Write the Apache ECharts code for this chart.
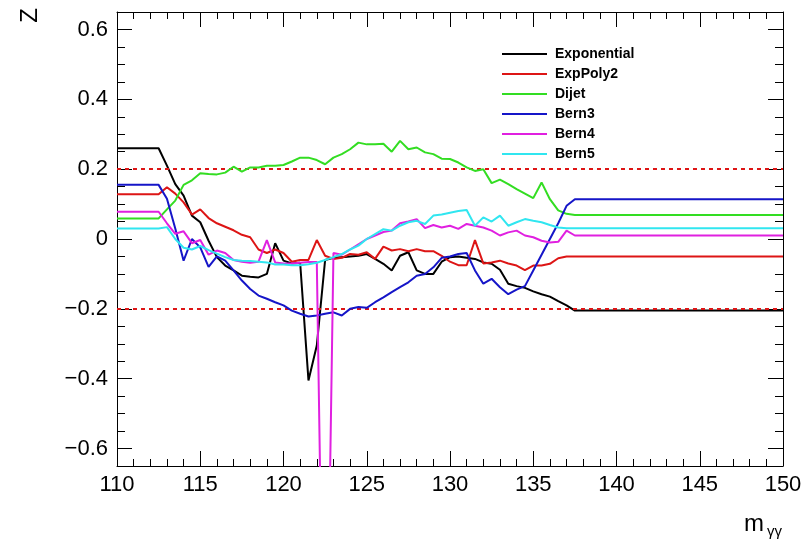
<!DOCTYPE html>
<html>
<head>
<meta charset="utf-8">
<script src="https://cdn.jsdelivr.net/npm/echarts@6/dist/echarts.min.js"></script>
<style>
html,body{margin:0;padding:0;background:#fff;}
#chart{width:807px;height:546px;}
</style>
</head>
<body>
<div id="chart"></div>
<script>
// x values (m_gammagamma)
const xMass = [110, 112.5, 113, 113.5, 114, 114.5, 115, 115.5, 116, 116.5, 117, 117.5, 118, 118.5, 119, 119.5, 120, 120.5, 121, 121.5, 122, 122.5, 123, 123.5, 124, 124.5, 125, 125.5, 126, 126.5, 127, 127.5, 128, 128.5, 129, 129.5, 130, 130.5, 131, 131.5, 132, 132.5, 133, 133.5, 134, 134.5, 135, 135.5, 136, 136.5, 137, 137.5, 150];

const expVals = [0.26, 0.26, 0.21, 0.157, 0.124, 0.067, 0.048, -0.005, -0.052, -0.076, -0.09, -0.105, -0.108, -0.11, -0.10, -0.012, -0.062, -0.07, -0.068, -0.405, -0.305, -0.06, -0.054, -0.052, -0.05, -0.048, -0.043, -0.057, -0.071, -0.09, -0.048, -0.038, -0.09, -0.1, -0.1, -0.065, -0.052, -0.05, -0.054, -0.057, -0.067, -0.071, -0.088, -0.128, -0.135, -0.14, -0.15, -0.158, -0.165, -0.178, -0.19, -0.205, -0.205];

const expPoly2Vals = [0.128, 0.128, 0.148, 0.13, 0.105, 0.07, 0.085, 0.06, 0.045, 0.035, 0.025, 0.012, 0.005, -0.03, -0.04, -0.03, -0.04, -0.065, -0.06, -0.06, -0.003, -0.048, -0.057, -0.054, -0.043, -0.045, -0.038, -0.057, -0.022, -0.033, -0.029, -0.035, -0.029, -0.035, -0.035, -0.048, -0.065, -0.075, -0.075, -0.003, -0.07, -0.067, -0.062, -0.07, -0.076, -0.089, -0.076, -0.076, -0.071, -0.055, -0.05, -0.05, -0.05];

const dijetVals = [0.059, 0.059, 0.085, 0.11, 0.155, 0.168, 0.188, 0.186, 0.185, 0.19, 0.207, 0.193, 0.205, 0.205, 0.21, 0.21, 0.212, 0.222, 0.233, 0.233, 0.226, 0.214, 0.233, 0.243, 0.257, 0.276, 0.271, 0.271, 0.273, 0.25, 0.281, 0.257, 0.262, 0.248, 0.243, 0.23, 0.229, 0.219, 0.205, 0.195, 0.2, 0.16, 0.17, 0.157, 0.143, 0.13, 0.117, 0.162, 0.114, 0.082, 0.072, 0.069, 0.069];

const bern3Vals = [0.155, 0.155, 0.115, 0.03, -0.062, 0.0, -0.024, -0.08, -0.05, -0.062, -0.09, -0.119, -0.143, -0.162, -0.171, -0.181, -0.19, -0.205, -0.214, -0.222, -0.219, -0.214, -0.21, -0.219, -0.2, -0.195, -0.197, -0.181, -0.167, -0.152, -0.138, -0.124, -0.105, -0.1, -0.081, -0.054, -0.05, -0.043, -0.04, -0.09, -0.128, -0.114, -0.138, -0.158, -0.145, -0.135, -0.09, -0.045, 0.0, 0.045, 0.095, 0.114, 0.114];

const bern4Vals = [0.078, 0.078, 0.045, 0.015, 0.022, -0.012, -0.003, -0.045, -0.033, -0.04, -0.06, -0.065, -0.068, -0.065, -0.003, -0.067, -0.07, -0.07, -0.068, -0.066, -0.066, -1.6, -0.04, -0.045, -0.03, -0.015, 0.0, 0.01, 0.02, 0.024, 0.045, 0.05, 0.057, 0.031, 0.04, 0.033, 0.038, 0.029, 0.043, 0.038, 0.033, 0.024, 0.01, 0.019, 0.024, 0.01, 0.005, -0.005, -0.01, -0.008, 0.024, 0.01, 0.01];

const bern5Vals = [0.03, 0.03, 0.034, 0.0, -0.025, -0.03, -0.02, -0.032, -0.042, -0.052, -0.06, -0.062, -0.063, -0.065, -0.067, -0.073, -0.073, -0.075, -0.075, -0.072, -0.068, -0.06, -0.052, -0.043, -0.03, -0.019, 0.0, 0.014, 0.028, 0.024, 0.038, 0.048, 0.052, 0.043, 0.067, 0.07, 0.075, 0.08, 0.083, 0.038, 0.062, 0.05, 0.067, 0.038, 0.048, 0.057, 0.052, 0.048, 0.04, 0.033, 0.031, 0.031, 0.031];

const seriesNames = ['Exponential', 'ExpPoly2', 'Dijet', 'Bern3', 'Bern4', 'Bern5'];
const seriesValues = [expVals, expPoly2Vals, dijetVals, bern3Vals, bern4Vals, bern5Vals];
const seriesColors = ['#000000', '#dd1515', '#33dd22', '#1515c8', '#e020e0', '#30e6f0'];

const refLevels = [0.2, -0.2];
const yMajorTicks = [-0.6, -0.4, -0.2, 0, 0.2, 0.4, 0.6];
const yMinorTicks = [-0.65, -0.55, -0.5, -0.45, -0.35, -0.3, -0.25, -0.15, -0.1, -0.05, 0.05, 0.1, 0.15, 0.25, 0.3, 0.35, 0.45, 0.5, 0.55, 0.65];

const FONT = 'Liberation Sans, Arial, Helvetica, sans-serif';
const chart = echarts.init(document.getElementById('chart'), null, {renderer: 'canvas'});

function yLab(v) {
  if (Math.abs(v) < 1e-9) return '0';
  return v.toFixed(1).replace('-', '\u2212');
}

const yBase = {type: 'value', min: -0.65, max: 0.65, splitLine: {show: false}};
function yAx(pos, ticks, len, showLine, showLabel) {
  return Object.assign({}, yBase, {
    position: pos,
    axisLine: {show: showLine, lineStyle: {color: '#000', width: 1}},
    axisTick: {show: true, inside: true, length: len, customValues: ticks, lineStyle: {color: '#000', width: 1}},
    axisLabel: showLabel ? {show: true, customValues: ticks, formatter: yLab, fontSize: 22, color: '#000', fontFamily: FONT, margin: 9} : {show: false}
  });
}

const xBase = {type: 'value', min: 110, max: 150, interval: 5, splitLine: {show: false},
  axisLine: {show: true, onZero: false, lineStyle: {color: '#000', width: 1}},
  axisTick: {show: true, inside: true, length: 15, lineStyle: {color: '#000', width: 1}},
  minorTick: {show: true, splitNumber: 5, length: 7, lineStyle: {color: '#000', width: 1}}
};

const series = seriesNames.map((name, i) => ({
  name: name,
  type: 'line',
  xAxisIndex: 0, yAxisIndex: 0,
  data: xMass.map((x, j) => [x, seriesValues[i][j]]),
  showSymbol: false,
  symbol: 'none',
  clip: true,
  lineStyle: {color: seriesColors[i], width: 2},
  itemStyle: {color: seriesColors[i]},
  z: 3 + i
}));

series.unshift({
  name: 'ref',
  type: 'line',
  data: [],
  xAxisIndex: 0, yAxisIndex: 0,
  markLine: {
    silent: true, symbol: 'none', animation: false,
    label: {show: false},
    lineStyle: {color: '#dd1515', width: 2, type: [4, 4]},
    data: refLevels.map(v => ({yAxis: v}))
  },
  z: 2
});

chart.setOption({
  animation: false,
  backgroundColor: '#fff',
  grid: {left: 117, right: 24, top: 12, bottom: 80, containLabel: false},
  xAxis: [
    Object.assign({}, xBase, {position: 'bottom', axisLabel: {show: true, fontSize: 22, color: '#000', fontFamily: FONT, margin: 8}}),
    Object.assign({}, xBase, {position: 'top', axisLabel: {show: false}})
  ],
  yAxis: [
    yAx('left', yMajorTicks, 15, true, true),
    yAx('left', yMinorTicks, 8, false, false),
    yAx('right', yMajorTicks, 15, true, false),
    yAx('right', yMinorTicks, 8, false, false)
  ],
  legend: {
    data: seriesNames,
    orient: 'vertical',
    left: 497, top: 42,
    icon: 'rect',
    itemWidth: 45, itemHeight: 2,
    itemGap: 6,
    textStyle: {fontSize: 14, fontWeight: 'bold', color: '#000', fontFamily: FONT, lineHeight: 14, padding: [0, 0, 0, 3]},
    selectedMode: false
  },
  graphic: [
    {type: 'text', left: 18, top: 8, rotation: Math.PI / 2,
     style: {text: 'Z', fontSize: 24, fontFamily: FONT, fill: '#000'}},
    {type: 'text', left: 744, top: 512,
     style: {text: 'm', fontSize: 24, fontFamily: FONT, fill: '#000'}},
    {type: 'text', left: 767, top: 524,
     style: {text: '\u03b3\u03b3', fontSize: 15, fontFamily: FONT, fill: '#000'}}
  ],
  series: series
});
</script>
</body>
</html>
